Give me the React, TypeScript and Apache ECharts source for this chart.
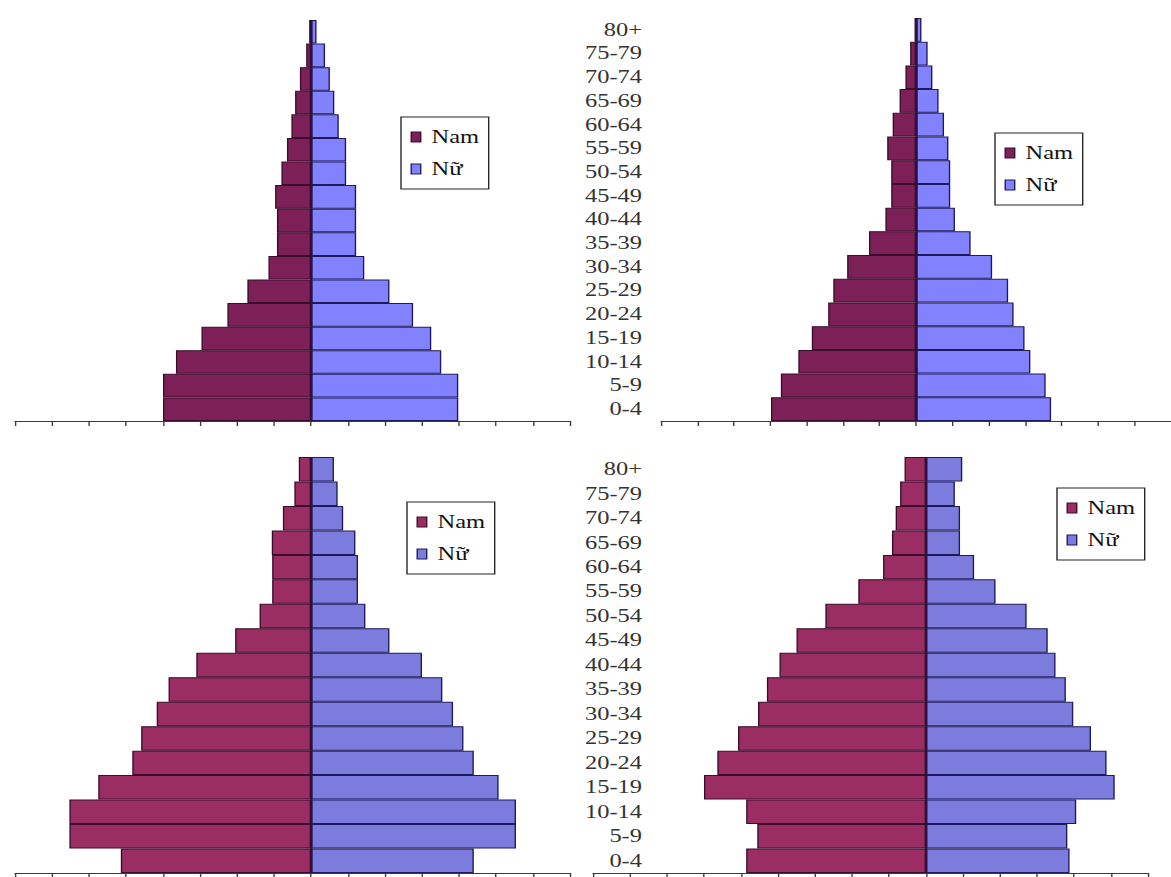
import React, { useEffect, useRef } from "react";
import * as echarts from "echarts";

// Age groups, bottom (youngest) to top (oldest)
const AGE_GROUPS = [
  "0-4", "5-9", "10-14", "15-19", "20-24", "25-29", "30-34", "35-39", "40-44",
  "45-49", "50-54", "55-59", "60-64", "65-69", "70-74", "75-79", "80+",
];

// Population share per age group, in axis units (one tick = one unit)
const TOP_LEFT_MALE = [4.0, 4.0, 3.65, 2.96, 2.26, 1.72, 1.15, 0.92, 0.92, 0.97, 0.8, 0.65, 0.53, 0.43, 0.3, 0.13, 0.05];
const TOP_LEFT_FEMALE = [3.98, 3.98, 3.52, 3.25, 2.76, 2.12, 1.44, 1.22, 1.22, 1.22, 0.95, 0.95, 0.75, 0.63, 0.51, 0.38, 0.15];

const TOP_RIGHT_MALE = [3.98, 3.71, 3.23, 2.86, 2.41, 2.27, 1.89, 1.29, 0.84, 0.68, 0.68, 0.79, 0.64, 0.45, 0.29, 0.16, 0.04];
const TOP_RIGHT_FEMALE = [3.71, 3.56, 3.14, 2.98, 2.68, 2.53, 2.09, 1.5, 1.07, 0.94, 0.94, 0.89, 0.77, 0.62, 0.45, 0.32, 0.15];

const BOTTOM_LEFT_MALE = [5.14, 6.53, 6.53, 5.75, 4.83, 4.59, 4.17, 3.85, 3.1, 2.05, 1.39, 1.05, 1.05, 1.06, 0.76, 0.45, 0.33];
const BOTTOM_LEFT_FEMALE = [4.4, 5.54, 5.54, 5.07, 4.4, 4.12, 3.84, 3.55, 3.0, 2.12, 1.47, 1.27, 1.27, 1.2, 0.87, 0.72, 0.62];

const BOTTOM_RIGHT_MALE = [4.86, 4.56, 4.86, 6.0, 5.64, 5.08, 4.54, 4.3, 3.96, 3.5, 2.72, 1.83, 1.16, 0.92, 0.82, 0.7, 0.58];
const BOTTOM_RIGHT_FEMALE = [3.88, 3.82, 4.06, 5.1, 4.88, 4.46, 3.98, 3.78, 3.5, 3.29, 2.72, 1.88, 1.3, 0.92, 0.92, 0.78, 0.98];

const SERIES_NAMES = ["Nam", "Nữ"];

// Page geometry: the drawing is laid out narrow and stretched horizontally
const PAGE_W = 1171;
const PAGE_H = 877;
const STRETCH = 1.36;
const UNIT = 37; // px per axis unit after stretching
const sx = (x: number) => x / STRETCH;

const FONT = "Liberation Serif";

const TOP_COLORS = { male: "#7e2058", female: "#8282ff", maleBorder: "#3a0c2c", femaleBorder: "#1e1a5c" };
const BOTTOM_COLORS = { male: "#9a2d62", female: "#7c7cde", maleBorder: "#3a0c2c", femaleBorder: "#1e1a5c" };

const PANELS = [
  { male: TOP_LEFT_MALE, female: TOP_LEFT_FEMALE, center: 311, min: -8, max: 7, top: 20, bottom: 421, labelRight: null as number | null, legend: [401, 117], colors: TOP_COLORS },
  { male: TOP_RIGHT_MALE, female: TOP_RIGHT_FEMALE, center: 920, min: -7, max: 7, top: 18, bottom: 421, labelRight: 642 as number | null, legend: [995, 133], colors: TOP_COLORS },
  { male: BOTTOM_LEFT_MALE, female: BOTTOM_LEFT_FEMALE, center: 311, min: -8, max: 7, top: 457, bottom: 873, labelRight: null as number | null, legend: [407, 502], colors: BOTTOM_COLORS },
  { male: BOTTOM_RIGHT_MALE, female: BOTTOM_RIGHT_FEMALE, center: 926, min: -9, max: 6, top: 457, bottom: 873, labelRight: 642 as number | null, legend: [1057, 488], colors: BOTTOM_COLORS },
];

function buildOption() {
  const grid = PANELS.map((p) => {
    const leftPx = p.center + p.min * UNIT;
    return {
      left: sx(leftPx),
      width: sx((p.max - p.min) * UNIT),
      top: p.top,
      height: p.bottom - p.top,
    };
  });

  const xAxis = PANELS.map((p, i) => ({
    type: "value",
    gridIndex: i,
    min: p.min,
    max: p.max,
    interval: 1,
    axisLine: { show: true, onZero: false, lineStyle: { color: "#3a3a3a", width: 1 } },
    axisTick: { show: true, length: 5, lineStyle: { color: "#3a3a3a", width: 1 } },
    axisLabel: { show: false },
    splitLine: { show: false },
  }));

  const yAxis = PANELS.map((p, i) => {
    const leftPx = p.center + p.min * UNIT;
    return {
      type: "category",
      gridIndex: i,
      data: AGE_GROUPS,
      axisLine: { show: false, onZero: false },
      axisTick: { show: false },
      splitLine: { show: false },
      axisLabel:
        p.labelRight == null
          ? { show: false }
          : {
              show: true,
              margin: sx(leftPx - p.labelRight),
              align: "right",
              fontFamily: FONT,
              fontSize: 18,
              color: "#333",
            },
    };
  });

  const series: any[] = [];
  PANELS.forEach((p, i) => {
    series.push({
      name: SERIES_NAMES[0],
      type: "bar",
      xAxisIndex: i,
      yAxisIndex: i,
      data: p.male.map((v) => -v),
      barWidth: "100%",
      barGap: "-100%",
      itemStyle: { color: p.colors.male, borderColor: p.colors.maleBorder, borderWidth: 1 },
    });
    series.push({
      name: SERIES_NAMES[1],
      type: "bar",
      xAxisIndex: i,
      yAxisIndex: i,
      data: p.female,
      barWidth: "100%",
      barGap: "-100%",
      itemStyle: { color: p.colors.female, borderColor: p.colors.femaleBorder, borderWidth: 1 },
      // vertical axis line at zero, drawn over the bar edges
      markLine: {
        silent: true,
        symbol: "none",
        label: { show: false },
        lineStyle: { color: "#2a1040", width: 1.5, type: "solid" },
        data: [{ xAxis: 0 }],
      },
    });
  });

  const legend = PANELS.map((p) => ({
    left: sx(p.legend[0]),
    top: p.legend[1],
    orient: "vertical",
    selectedMode: false,
    icon: "rect",
    itemWidth: 7,
    itemHeight: 10,
    itemGap: 12,
    padding: [10, 7, 10, 7],
    borderColor: "#222",
    borderWidth: 1,
    backgroundColor: "#fff",
    data: [
      { name: SERIES_NAMES[0], itemStyle: { color: p.colors.male, borderColor: p.colors.maleBorder, borderWidth: 1 } },
      { name: SERIES_NAMES[1], itemStyle: { color: p.colors.female, borderColor: p.colors.femaleBorder, borderWidth: 1 } },
    ],
    textStyle: { fontFamily: FONT, fontSize: 18, color: "#111", lineHeight: 20, padding: [0, 0, 0, 3] },
  }));

  return {
    animation: false,
    backgroundColor: "#fff",
    textStyle: { fontFamily: FONT },
    grid,
    xAxis,
    yAxis,
    legend,
    series,
  };
}

export default function App() {
  const ref = useRef<HTMLDivElement>(null);

  useEffect(() => {
    if (!ref.current) return;
    const chart = echarts.init(ref.current, undefined, { renderer: "svg" });
    chart.setOption(buildOption() as any);
    return () => chart.dispose();
  }, []);

  return (
    <div
      ref={ref}
      style={{
        position: "absolute",
        left: 0,
        top: 0,
        width: PAGE_W / STRETCH,
        height: PAGE_H,
        transform: `scaleX(${STRETCH})`,
        transformOrigin: "0 0",
        background: "#fff",
      }}
    />
  );
}
